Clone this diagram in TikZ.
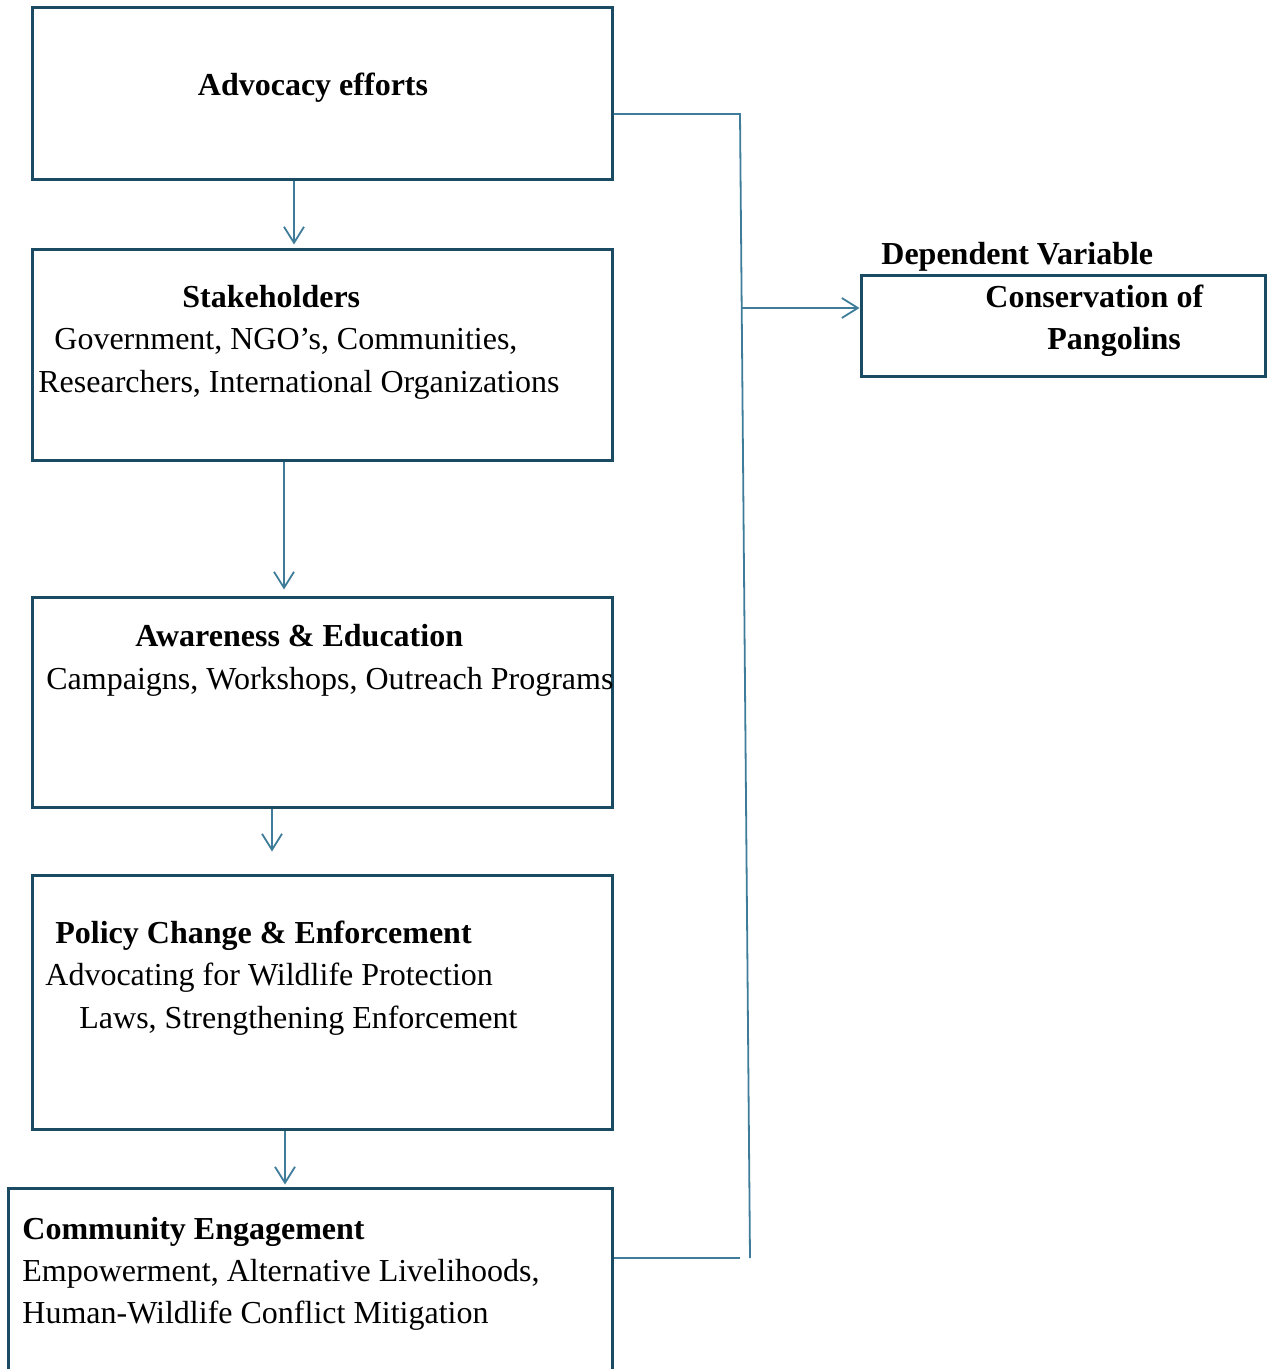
\documentclass[tikz,border=0pt]{standalone}
\usepackage{fontspec}
\setmainfont{Liberation Serif}
\usetikzlibrary{arrows.meta}
\definecolor{boxblue}{RGB}{27,74,99}
\definecolor{linkblue}{RGB}{62,124,154}
\begin{document}
\begin{tikzpicture}[x=0.5pt, y=-0.5pt,
  stage/.style ={draw=boxblue, line width=1.5pt, inner sep=0pt, minimum width=290pt},
  txt/.style ={anchor=base west, inner sep=0pt, font=\fontsize{16}{19}\selectfont},
  head/.style ={txt, font=\fontsize{16}{19}\selectfont\bfseries},
  wire/.style ={draw=linkblue, line width=0.9pt},
  link/.style ={wire, -{Straight Barb[length=8pt, width=10pt, line width=0.9pt]}}]
 \useasboundingbox (0,0) rectangle (1266,1369);
 % boxes
 \node[stage, minimum height=86pt] (adv) at (322,94) {};
 \node[stage, minimum height=105pt] (stk) at (322,355) {};
 \node[stage, minimum height=105pt] (awe) at (322,702) {};
 \node[stage, minimum height=127pt] (pol) at (322,1002) {};
 \node[stage, minimum width=302pt, minimum height=96pt] (com) at (310,1284) {};
 \node[stage, minimum width=202pt, minimum height=50pt] (dv) at (1063,326) {};
 % texts
 \node[head, anchor=base] (advt) at (313,96) {Advocacy efforts};
 \node[head] (stkt) at (182,308) {Stakeholders};
 \node[txt] (stk1) at (54,350) {Government, NGO’s, Communities,};
 \node[txt] (stk2) at (38,392) {Researchers, International Organizations};
 \node[head] (awet) at (135,646) {Awareness \& Education};
 \node[txt] (awe1) at (46,689) {Campaigns, Workshops, Outreach Programs};
 \node[head] (polt) at (55,943) {Policy Change \& Enforcement};
 \node[txt] (pol1) at (45,985) {Advocating for Wildlife Protection};
 \node[txt] (pol2) at (79,1028) {Laws, Strengthening Enforcement};
 \node[head] (comt) at (22,1239) {Community Engagement};
 \node[txt] (com1) at (22,1281) {Empowerment, Alternative Livelihoods,};
 \node[txt] (com2) at (22,1323) {Human-Wildlife Conflict Mitigation};
 \node[head] (dvl) at (881,265) {Dependent Variable};
 \node[head] (dv1) at (985,308) {Conservation of};
 \node[head] (dv2) at (1047,350) {Pangolins};
 % connectors
 \coordinate (a1) at (294,0);
 \coordinate (a2) at (284,0);
 \coordinate (a3) at (272,0);
 \coordinate (a4) at (285,0);
 \coordinate (r1) at (740,114);
 \coordinate (r2) at (750,1258);
 \coordinate (r3) at (742,308);
 \coordinate (r4) at (740,1258);
 \draw[link] (adv.south -| a1) -- ([yshift=2pt]stk.north -| a1);
 \draw[link] (stk.south -| a2) -- ([yshift=3pt]awe.north -| a2);
 \draw[link] (awe.south -| a3) -- ([yshift=11pt]pol.north -| a3);
 \draw[link] (pol.south -| a4) -- ([yshift=1pt]com.north -| a4);
 \draw[wire] (adv.east |- r1) -- (r1) -- (r2);
 \draw[wire] (com.east |- r4) -- (r4);
 \draw[link] (r3) -- (dv.west |- r3);
\end{tikzpicture}
\end{document}
